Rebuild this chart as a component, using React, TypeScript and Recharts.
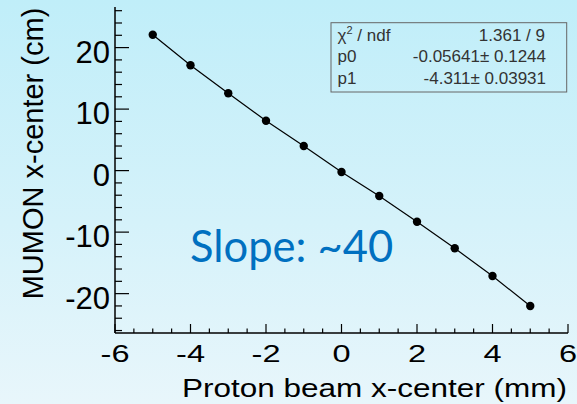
import React from "react";
import { LineChart, Line, XAxis, YAxis } from "recharts";

// proton beam x-center (mm)
const beamX = [-5, -4, -3, -2, -1, 0, 1, 2, 3, 4, 5];
// MUMON x-center (cm)
const mumonX = [22.09, 17.12, 12.57, 8.11, 4.0, -0.23, -4.13, -8.31, -12.63, -17.14, -22.01];

const xTicks = Array.from({ length: 25 }, (_, i) => -6 + i * 0.5);
const yTicks = Array.from({ length: 27 }, (_, i) => -26 + i * 2);
const xLabelTicks = [-6, -4, -2, 0, 2, 4, 6];
const yLabelTicks = [-20, -10, 0, 10, 20];

const statsRows = [
  { name: "p0", value: "-0.05641\u00b1 0.1244" },
  { name: "p1", value: "-4.311\u00b1 0.03931" },
];

const data = beamX.map((x, i) => ({ x, y: mumonX[i] }));

const FONT = "'Liberation Sans', Arial, sans-serif";
const frame = { stroke: "#000", strokeWidth: 1.5 };

function XTick({ x, y, payload }: any) {
  const v = payload.value;
  const major = xLabelTicks.includes(v);
  return (
    <g>
      <line x1={x} x2={x} y1={y} y2={y - (major ? 9 : 4.5)} stroke="#000" strokeWidth={1.2} />
      {major && (
        <text
          transform={`translate(${x},362) scale(1.05,0.78)`}
          textAnchor="middle"
          fontSize={31}
          fontFamily={FONT}
          fill="#000"
        >
          {v}
        </text>
      )}
    </g>
  );
}

function YTick({ x, y, payload }: any) {
  const v = payload.value;
  const major = yLabelTicks.includes(v);
  return (
    <g>
      <line x1={x} x2={x + (major ? 14 : 7)} y1={y} y2={y} stroke="#000" strokeWidth={1.2} />
      {major && (
        <text x={110} y={y + 15} textAnchor="end" fontSize={31} fontFamily={FONT} fill="#000">
          {v}
        </text>
      )}
    </g>
  );
}

function Dot({ cx, cy }: any) {
  return <circle cx={cx} cy={cy} r={4.2} fill="#000" />;
}

export default function App() {
  return (
    <div
      style={{
        position: "absolute",
        left: 0,
        top: 0,
        width: 577,
        height: 404,
        background: "linear-gradient(180deg, #c0eef9 0%, #d5f2fa 55%, #e8f6fb 100%)",
        overflow: "hidden",
      }}
    >
      <LineChart width={577} height={404} data={data} margin={{ top: 7, right: 9, bottom: 0, left: 0 }}>
        <XAxis
          xAxisId="b"
          dataKey="x"
          type="number"
          domain={[-6, 6]}
          ticks={xTicks}
          interval={0}
          height={71}
          tickSize={0}
          tickMargin={0}
          axisLine={frame}
          tick={<XTick />}
        />
        <XAxis xAxisId="t" orientation="top" type="number" domain={[-6, 6]} height={0} tick={false} tickLine={false} axisLine={frame} />
        <YAxis
          yAxisId="l"
          type="number"
          domain={[-26.4, 26.6]}
          ticks={yTicks}
          interval={0}
          width={115}
          tickSize={0}
          tickMargin={0}
          axisLine={frame}
          tick={<YTick />}
        />
        <YAxis yAxisId="r" orientation="right" type="number" domain={[-26.4, 26.6]} width={0} tick={false} tickLine={false} axisLine={frame} />
        <Line
          xAxisId="b"
          yAxisId="l"
          dataKey="y"
          type="linear"
          stroke="#000"
          strokeWidth={1.2}
          dot={<Dot />}
          isAnimationActive={false}
        />
      </LineChart>
      <svg width={577} height={404} style={{ position: "absolute", left: 0, top: 0, pointerEvents: "none" }}>
        <rect x={331} y={22.7} width={235.7} height={69.3} fill="none" stroke="#666" strokeWidth={1} />
        <g fontFamily={FONT} fontSize={17} fill="#333">
          <text x={337.5} y={40.7}>
            {"\u03c7"}
            <tspan fontSize={11} dy={-7}>2</tspan>
            <tspan dy={7}>{" / ndf"}</tspan>
          </text>
          <text x={545} y={40.7} textAnchor="end">1.361 / 9</text>
          {statsRows.map((r, i) => (
            <g key={r.name}>
              <text x={337.5} y={62 + i * 21.5}>{r.name}</text>
              <text x={546} y={62 + i * 21.5} textAnchor="end">{r.value}</text>
            </g>
          ))}
        </g>
        <text
          transform="translate(43,153.5) rotate(-90)"
          textAnchor="middle"
          fontSize={29}
          fontFamily={FONT}
          fill="#000"
        >
          MUMON x-center (cm)
        </text>
        <text
          transform="translate(567,396.7) scale(1,0.82)"
          textAnchor="end"
          fontSize={31.5}
          fontFamily={FONT}
          fill="#000"
        >
          Proton beam x-center (mm)
        </text>
        <text x={190} y={262} fontSize={43.5} fontFamily="Lato, 'Open Sans', sans-serif" fill="#0070c0">
          Slope: ~40
        </text>
      </svg>
    </div>
  );
}
